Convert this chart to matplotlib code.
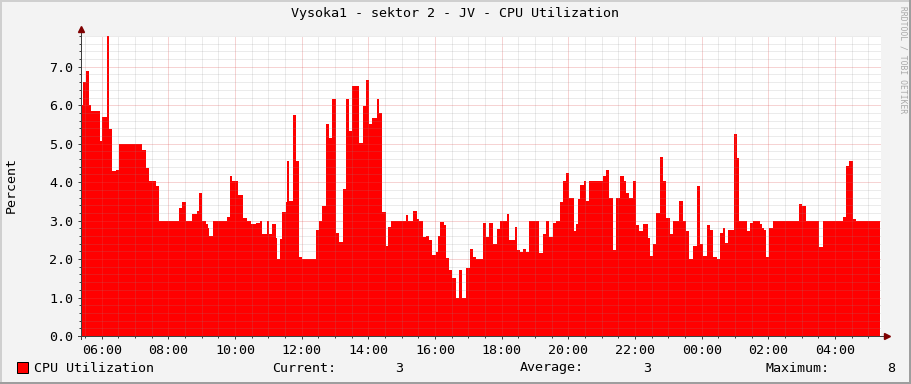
import matplotlib
matplotlib.use("Agg")
import matplotlib.pyplot as plt
from matplotlib.patches import Rectangle
from matplotlib.ticker import MultipleLocator, FuncFormatter

W, H = 911, 384
FS = 9.6
plt.rcParams['font.family'] = ['DejaVu Sans Mono']

title = "Vysoka1 - sektor 2 - JV - CPU Utilization"
ylabel = "Percent"
series_name = "CPU Utilization"
stat_names = ["Current:", "Average:", "Maximum:"]
stat_values = ["3", "3", "8"]
watermark = "RRDTOOL / TOBI OETIKER"

# window of the graph: 24 hours starting 05:22:40
start_hour = 5 + 22.7 / 60
span_hours = 24
data_end = "05:21"

# step changes of the CPU series (time the value starts, value in %)
times = [
    "05:22", "05:26", "05:32", "05:37", "05:41", "05:57", "06:01", "06:09", "06:13", "06:18",
    "06:25", "06:31", "07:12", "07:20", "07:26", "07:38", "07:43", "08:19", "08:24", "08:31",
    "08:42", "08:51", "08:55", "09:00", "09:07", "09:11", "09:14", "09:20", "09:45", "09:51",
    "09:55", "10:06", "10:14", "10:21", "10:29", "10:38", "10:45", "10:49", "10:57", "11:02",
    "11:07", "11:14", "11:16", "11:20", "11:24", "11:32", "11:34", "11:38", "11:44", "11:50",
    "11:56", "12:00", "12:26", "12:31", "12:36", "12:44", "12:49", "12:54", "13:02", "13:08",
    "13:14", "13:20", "13:26", "13:31", "13:44", "13:50", "13:56", "14:01", "14:07", "14:16",
    "14:20", "14:25", "14:31", "14:36", "14:41", "15:08", "15:12", "15:21", "15:27", "15:31",
    "15:38", "15:44", "15:50", "15:55", "16:01", "16:05", "16:09", "16:16", "16:19", "16:25",
    "16:30", "16:38", "16:44", "16:49", "16:55", "17:03", "17:09", "17:14", "17:27", "17:32",
    "17:38", "17:45", "17:51", "17:57", "18:09", "18:14", "18:23", "18:27", "18:32", "18:39",
    "18:44", "18:50", "19:07", "19:15", "19:20", "19:25", "19:33", "19:38", "19:45", "19:51",
    "19:56", "20:01", "20:10", "20:13", "20:18", "20:21", "20:28", "20:32", "20:37", "21:02",
    "21:07", "21:13", "21:20", "21:25", "21:33", "21:40", "21:44", "21:50", "21:56", "22:01",
    "22:08", "22:14", "22:24", "22:26", "22:32", "22:38", "22:44", "22:51", "22:56", "23:02",
    "23:09", "23:20", "23:26", "23:32", "23:38", "23:45", "23:51", "23:56", "00:02", "00:09",
    "00:14", "00:21", "00:28", "00:32", "00:38", "00:42", "00:47", "00:58", "01:03", "01:08",
    "01:22", "01:27", "01:33", "01:44", "01:48", "01:53", "01:56", "02:01", "02:08", "02:55",
    "03:00", "03:08", "03:31", "03:38", "04:14", "04:20", "04:26", "04:32", "04:37",
]
values = [
    6.0, 6.6, 6.9, 6.0, 5.84, 5.07, 5.7, 7.8, 5.39, 4.28,
    4.31, 5.0, 4.84, 4.38, 4.02, 3.9, 3.0, 3.32, 3.48, 3.0,
    3.17, 3.25, 3.71, 3.0, 2.9, 2.8, 2.61, 3.0, 3.09, 4.16,
    4.02, 3.67, 3.08, 3.0, 2.9, 2.95, 3.0, 2.65, 3.0, 2.65,
    2.9, 2.54, 2.0, 2.52, 3.22, 3.48, 4.54, 3.5, 5.75, 4.54,
    2.06, 2.0, 2.76, 3.0, 3.37, 5.5, 5.16, 6.17, 2.67, 2.44,
    3.82, 6.17, 5.34, 6.51, 5.01, 5.99, 6.66, 5.5, 5.66, 6.17,
    5.79, 3.22, 2.35, 2.84, 3.0, 3.15, 3.0, 3.25, 3.04, 3.0,
    2.57, 2.61, 2.5, 2.1, 2.19, 2.61, 2.97, 2.89, 2.02, 1.72,
    1.5, 1.0, 1.72, 1.0, 1.76, 2.26, 2.06, 2.0, 2.95, 2.57,
    2.95, 2.39, 2.77, 3.0, 3.17, 2.5, 2.84, 2.24, 2.18, 2.26,
    2.18, 3.0, 2.17, 2.65, 3.0, 2.57, 2.95, 3.0, 3.48, 4.03,
    4.23, 3.58, 2.74, 2.91, 3.55, 3.93, 4.02, 3.5, 4.02, 4.16,
    4.32, 3.58, 2.24, 3.58, 4.16, 4.02, 3.71, 3.58, 4.02, 2.89,
    2.74, 2.9, 2.54, 2.09, 2.39, 3.19, 4.65, 4.02, 3.08, 2.65,
    3.0, 3.5, 3.0, 2.74, 2.0, 2.35, 3.9, 2.39, 2.09, 2.89,
    2.76, 2.06, 2.0, 2.67, 2.8, 2.43, 2.76, 5.26, 4.64, 3.0,
    2.74, 2.95, 3.0, 2.9, 2.82, 2.76, 2.06, 2.8, 3.0, 3.43,
    3.38, 3.0, 2.32, 3.0, 3.09, 4.43, 4.55, 3.04, 3.0,
]


def to_hours(labels):
    out = []
    day = 0
    for s in labels:
        h, m = s.split(":")
        v = int(h) + int(m) / 60 + day
        if out and v < out[-1]:
            day += 24
            v += 24
        out.append(v)
    return out


t = to_hours(times + [data_end])
v = values + [values[-1]]

fig = plt.figure(figsize=(W / 100, H / 100), dpi=100, facecolor="#F3F3F3")

# shaded frame like rrdtool
def px_rect(x, y, w, h, color):
    fig.add_artist(Rectangle((x / W, 1 - (y + h) / H), w / W, h / H,
                             transform=fig.transFigure, color=color, lw=0))

px_rect(0, 0, W, 2, "#CFCFCF")
px_rect(0, 0, 2, H, "#CFCFCF")
px_rect(0, H - 2, W, 2, "#9E9E9E")
px_rect(W - 2, 0, 2, H, "#9E9E9E")

ax = fig.add_axes([81 / W, (H - 336) / H, 800 / W, 300 / H])
ax.set_facecolor("white")
ax.fill_between(t, v, step="post", color="#FF0000", linewidth=0, zorder=1)

ax.set_xlim(start_hour, start_hour + span_hours)
ax.set_ylim(0, 7.8)

ax.xaxis.set_major_locator(MultipleLocator(2))
ax.xaxis.set_minor_locator(MultipleLocator(0.5))
ax.yaxis.set_major_locator(MultipleLocator(1))
ax.yaxis.set_minor_locator(MultipleLocator(0.2))
ax.xaxis.set_major_formatter(FuncFormatter(lambda x, p: "%02d:00" % (int(round(x)) % 24)))
ax.yaxis.set_major_formatter(FuncFormatter(lambda y, p: "%.1f" % y))

ax.set_axisbelow(False)
ax.grid(which="minor", color="#8F8F8F", alpha=0.35, linestyle=(0, (1, 1)), linewidth=0.72)
ax.grid(which="major", color="#DE5050", alpha=0.5, linestyle=(0, (1, 1)), linewidth=0.72)

ax.tick_params(which="both", direction="out", color="#404040", width=0.72)
ax.tick_params(which="major", length=2.2, labelsize=FS, pad=3.5)
ax.tick_params(which="minor", length=1.5)
for s in ax.spines.values():
    s.set_visible(False)

# axes with arrows
ax.plot([0, 0], [-0.01, 1.02], transform=ax.transAxes, color="#404040", lw=0.72, clip_on=False, zorder=3)
ax.plot([-0.004, 1.007], [0, 0], transform=ax.transAxes, color="#404040", lw=0.72, clip_on=False, zorder=3)
ax.plot([0], [1.022], marker="^", ms=4, color="#7F0000", transform=ax.transAxes, clip_on=False, zorder=4)
ax.plot([1.008], [0], marker=">", ms=4, color="#7F0000", transform=ax.transAxes, clip_on=False, zorder=4)

fig.text(455 / W, 1 - 14 / H, title, ha="center", va="center", fontsize=FS)
fig.text(11 / W, 1 - 185 / H, ylabel, rotation=90, ha="center", va="center", fontsize=FS)
fig.text(903 / W, 1 - 6 / H, watermark, rotation=270, ha="center", va="top",
         fontsize=5.8, color="#A8A8A8")

# legend row
fig.add_artist(Rectangle((17 / W, 1 - 373 / H), 11 / W, 11 / H, transform=fig.transFigure,
                         facecolor="#FF0000", edgecolor="black", lw=0.72))
ly = 1 - 368 / H
fig.text(34 / W, ly, series_name, ha="left", va="center", fontsize=FS)
for name, val, xn, xv in zip(stat_names, stat_values, [272, 520, 765], [395, 643, 887]):
    fig.text(xn / W, ly, name, ha="left", va="center", fontsize=FS)
    fig.text(xv / W, ly, val, ha="left", va="center", fontsize=FS)

fig.savefig("out.png", dpi=100, facecolor=fig.get_facecolor())
